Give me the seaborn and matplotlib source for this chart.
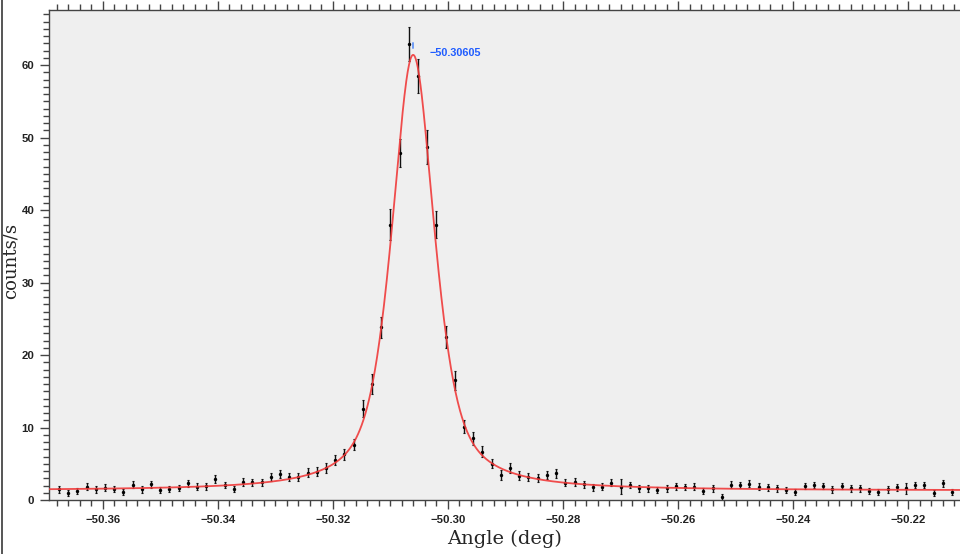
import numpy as np
import pandas as pd
import matplotlib
matplotlib.use("Agg")
import matplotlib.pyplot as plt
from matplotlib.ticker import MultipleLocator, FixedLocator, FuncFormatter
from matplotlib.lines import Line2D
import seaborn as sns

# Step scan: first angle and step width (deg)
scan_start = -50.3676
scan_step = 0.0016

# Measured count rate at each scan step (counts/s)
counts = [
    1.45, 0.92, 1.24, 1.84, 1.47, 1.70, 1.52, 1.15, 2.10, 1.47,
    2.20, 1.38, 1.52, 1.66, 2.32, 1.84, 1.88, 2.90, 2.07, 1.52,
    2.48, 2.45, 2.45, 3.15, 3.60, 3.22, 3.18, 3.75, 3.90, 4.40,
    5.50, 6.30, 7.65, 12.6, 16.0, 23.8, 38.0, 47.9, 62.9, 58.5,
    48.7, 38.0, 22.5, 16.5, 10.1, 8.50, 6.67, 5.00, 3.50, 4.37,
    3.35, 3.15, 3.00, 3.45, 3.68, 2.39, 2.48, 2.16, 1.75, 1.84,
    2.39, 1.84, 2.07, 1.61, 1.61, 1.33, 1.61, 1.90, 1.80, 1.85,
    1.20, 1.61, 0.42, 2.10, 2.07, 2.25, 1.84, 1.75, 1.61, 1.38,
    1.06, 1.93, 2.07, 1.93, 1.47, 1.93, 1.61, 1.61, 1.29, 1.06,
    1.47, 1.75, 1.61, 2.07, 2.07, 0.92, 2.30, 1.06,
]

# One-sigma uncertainty of each count rate
errors = [
    0.45, 0.40, 0.42, 0.48, 0.45, 0.46, 0.45, 0.42, 0.48, 0.45,
    0.48, 0.44, 0.45, 0.46, 0.50, 0.48, 0.48, 0.55, 0.48, 0.45,
    0.50, 0.50, 0.50, 0.55, 0.60, 0.56, 0.56, 0.60, 0.62, 0.70,
    0.73, 0.76, 0.80, 1.15, 1.40, 1.50, 2.20, 1.90, 2.35, 2.30,
    2.30, 1.90, 1.50, 1.26, 0.87, 0.85, 0.78, 0.62, 0.70, 0.70,
    0.60, 0.56, 0.55, 0.60, 0.60, 0.50, 0.50, 0.48, 0.45, 0.46,
    0.50, 1.00, 0.48, 0.45, 0.45, 0.42, 0.45, 0.48, 0.46, 0.46,
    0.42, 0.45, 0.40, 0.48, 0.48, 0.50, 0.46, 0.46, 0.45, 0.42,
    0.40, 0.48, 0.48, 0.48, 0.44, 0.48, 0.45, 0.45, 0.42, 0.40,
    0.44, 0.46, 0.74, 0.48, 0.48, 0.40, 0.50, 0.40,
]

# Pseudo-Voigt fit parameters
peak_center = -50.30605
peak_fwhm = 0.0089
peak_eta = 0.65
peak_amp = 60.1
background = 1.3

x_major = [-50.36, -50.34, -50.32, -50.30, -50.28, -50.26, -50.24, -50.22]
y_major = [0, 10, 20, 30, 40, 50, 60]
x_range = (-50.36933, -50.21101)
y_range = (0, 67.66)

angles = scan_start + scan_step * np.arange(len(counts))
scan = pd.DataFrame({"angle": angles, "rate": counts, "err": errors})


def pseudo_voigt(x):
    d = (x - peak_center) / peak_fwhm
    lor = 1.0 / (1.0 + 4.0 * d ** 2)
    gau = np.exp(-4.0 * np.log(2.0) * d ** 2)
    return background + peak_amp * (peak_eta * lor + (1.0 - peak_eta) * gau)


def minus_fmt(fmt):
    return FuncFormatter(lambda v, _: format(v, fmt).replace("-", "\u2212"))


fine = np.linspace(x_range[0], x_range[1], 2000)
fit = pd.DataFrame({"angle": fine, "rate": pseudo_voigt(fine)})

sns.set_style("ticks")
plt.rcParams["font.family"] = ["Liberation Sans", "DejaVu Sans"]

fig = plt.figure(figsize=(9.6, 5.54), dpi=100)
ax = fig.add_axes([49 / 960, 54 / 554, 1 - 49 / 960, (500 - 9.5) / 554])
ax.set_facecolor("#efefef")

ax.errorbar(scan["angle"], scan["rate"], yerr=scan["err"], fmt="none",
            ecolor="#111111", elinewidth=1.0, capsize=1.0, capthick=0.8, zorder=2)
sns.scatterplot(data=scan, x="angle", y="rate", ax=ax, color="#000000",
                s=6, linewidth=0, zorder=3, legend=False)
sns.lineplot(data=fit, x="angle", y="rate", ax=ax, color="#f03a3a",
             linewidth=1.3, alpha=0.9, zorder=4, legend=False)

# Peak position marker and label
peak_top = pseudo_voigt(peak_center)
ax.plot([peak_center, peak_center], [peak_top + 0.9, peak_top + 1.7],
        color="#6f9cf5", lw=1.4, zorder=5)
ax.annotate(f"{peak_center:.5f}".replace("-", "\u2212"), xy=(peak_center, peak_top),
            xytext=(12, 1.2), textcoords="offset points", va="center", ha="left",
            color="#1f5cff", fontsize=7.8, fontweight="bold")

ax.set_xlim(*x_range)
ax.set_ylim(*y_range)
ax.xaxis.set_major_locator(FixedLocator(x_major))
ax.xaxis.set_minor_locator(MultipleLocator(0.002))
ax.xaxis.set_major_formatter(minus_fmt(".2f"))
ax.yaxis.set_major_locator(FixedLocator(y_major))
ax.yaxis.set_minor_locator(MultipleLocator(1))
ax.yaxis.set_major_formatter(minus_fmt(".0f"))

for side in ("left", "bottom", "top"):
    ax.spines[side].set_color("#444444")
    ax.spines[side].set_linewidth(1.0)
ax.spines["right"].set_visible(False)

ax.tick_params(axis="both", which="major", direction="out", length=6.5,
               width=1.0, color="#444444", labelsize=8.2, labelcolor="#222222",
               pad=4)
ax.tick_params(axis="both", which="minor", direction="out", length=4.2,
               width=1.0, color="#444444")
ax.tick_params(axis="x", which="both", top=True, labeltop=False)
ax.tick_params(axis="y", which="both", right=False)
for lab in ax.get_xticklabels() + ax.get_yticklabels():
    lab.set_fontweight("bold")

ax.set_xlabel("Angle (deg)", family="DejaVu Serif", fontsize=14, labelpad=4)
ax.set_ylabel("counts/s", family="DejaVu Serif", fontsize=13)
ax.yaxis.set_label_coords((19.5 - 49) / 911, (500 - 261) / 490.5)

fig.add_artist(Line2D([1.5 / 960, 1.5 / 960], [0, 1], transform=fig.transFigure,
                      color="#555555", lw=1.4))

fig.savefig("out.png", dpi=100)
